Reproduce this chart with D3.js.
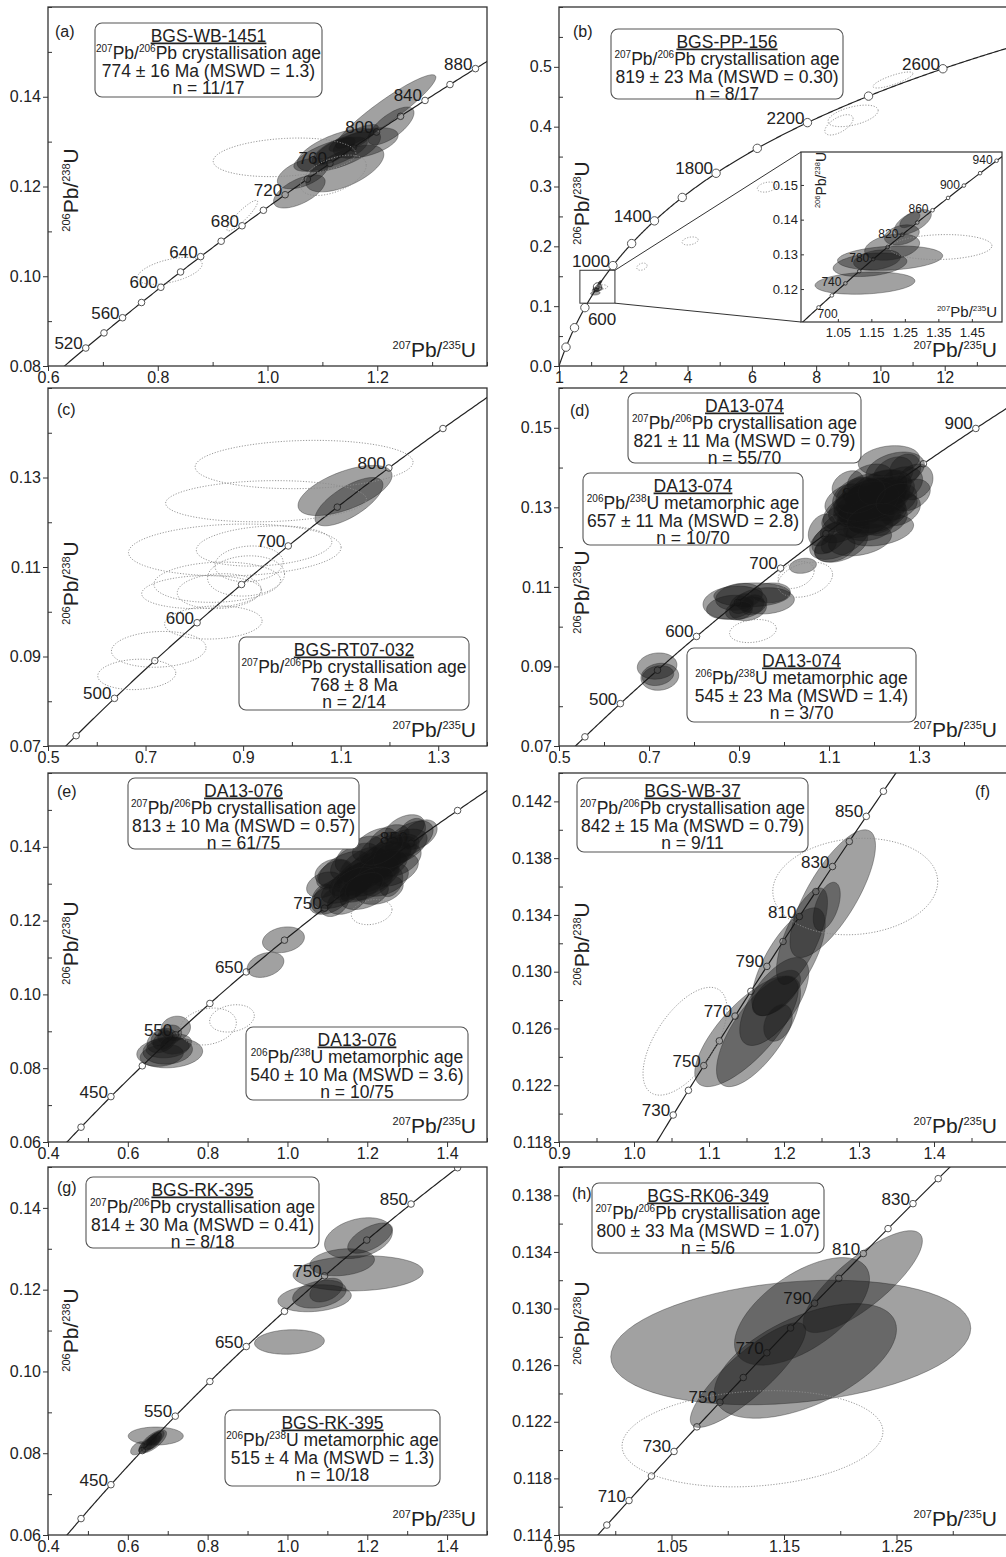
<!DOCTYPE html>
<html>
<head>
<meta charset="utf-8">
<script src="https://cdn.jsdelivr.net/npm/d3@7"></script>
<style>
  body { margin: 0; background: #fff; }
  svg { display: block; font-family: "Liberation Sans", Arial, sans-serif; }
</style>
</head>
<body>
<svg id="chart" width="1006" height="1557"></svg>
<script>

// decay constants (per Myr) used for the concordia curve
const L238 = 1.55125e-4;
const L235 = 9.8485e-4;

// ellipses are [x, y, half-width in x, half-width in y, correlation]

// ---- panel (a) BGS-WB-1451
const A_MARKERS = [520, 540, 560, 580, 600, 620, 640, 660, 680, 700, 720, 740, 760, 780, 800, 820, 840, 860, 880];
const A_LABELS = [520, 560, 600, 640, 680, 720, 760, 800, 840, 880];
const A_X = ["0.6", "0.8", "1.0", "1.2"];
const A_Y = ["0.08", "0.10", "0.12", "0.14"];
const A_BOX = ["BGS-WB-1451", "^207Pb/^206Pb crystallisation age", "774 ± 16 Ma (MSWD = 1.3)", "n = 11/17"];
const A_FILLED = [
  [1.2155, 0.1367, 0.0913, 0.0082, 0.93],
  [1.225, 0.1335, 0.042, 0.0042, 0.7],
  [1.179, 0.1297, 0.059, 0.0034, 0.5],
  [1.130, 0.1281, 0.076, 0.0048, 0.6],
  [1.064, 0.1229, 0.046, 0.0034, 0.5],
  [1.058, 0.1189, 0.047, 0.0037, 0.6],
  [1.141, 0.1240, 0.071, 0.0052, 0.6],
  [1.115, 0.1272, 0.067, 0.0038, 0.7],
  [1.139, 0.1292, 0.050, 0.0030, 0.8],
  [1.157, 0.1308, 0.045, 0.0030, 0.8],
  [1.121, 0.1279, 0.040, 0.0032, 0.7]
];
const A_REJECTED = [
  [1.031, 0.1265, 0.130, 0.0043, 0.2],
  [1.120, 0.1225, 0.060, 0.0045, 0.5],
  [0.954, 0.1135, 0.028, 0.0034, 0.9],
  [0.822, 0.1012, 0.059, 0.0030, 0.5]
];

// ---- panel (b) BGS-PP-156
const B_MARKERS = [200, 400, 600, 800, 1000, 1200, 1400, 1600, 1800, 2000, 2200, 2400, 2600];
const B_LABELS = [600, 1000, 1400, 1800, 2200, 2600];
const B_X_VALUES = [0, 2, 4, 6, 8, 10, 12];
const B_X = ["1", "2", "4", "6", "8", "10", "12"];
const B_Y = ["0.0", "0.1", "0.2", "0.3", "0.4", "0.5"];
const B_BOX = ["BGS-PP-156", "^207Pb/^206Pb crystallisation age", "819 ± 23 Ma (MSWD = 0.30)", "n = 8/17"];
const B_FILLED = [
  [1.131, 0.1217, 0.149, 0.0032, 0.2],
  [1.206, 0.1289, 0.157, 0.0035, 0.2],
  [1.146, 0.1270, 0.110, 0.0034, 0.3],
  [1.167, 0.1284, 0.070, 0.0029, 0.3],
  [1.212, 0.1321, 0.082, 0.0038, 0.3],
  [1.241, 0.1356, 0.052, 0.0029, 0.3],
  [1.274, 0.1393, 0.055, 0.0036, 0.6],
  [1.265, 0.1399, 0.030, 0.0022, 0.6]
];
const B_REJECTED = [
  [10.39, 0.478, 0.62, 0.0134, 0.8],
  [9.15, 0.418, 0.78, 0.018, 0.5],
  [8.71, 0.403, 0.44, 0.017, 0.6],
  [6.47, 0.299, 0.30, 0.0084, 0.3],
  [4.08, 0.209, 0.25, 0.0067, 0.3],
  [2.58, 0.166, 0.16, 0.006, 0.3],
  [1.358, 0.1321, 0.152, 0.0036, 0.1]
];
const B_ZOOM = [0.65, 1.74, 0.105, 0.16];
const INSET_MARKERS = [700, 720, 740, 760, 780, 800, 820, 840, 860, 880, 900, 920, 940];
const INSET_LABELS = [700, 740, 780, 820, 860, 900, 940];
const INSET_X = ["1.05", "1.15", "1.25", "1.35", "1.45"];
const INSET_Y = ["0.12", "0.13", "0.14", "0.15"];

// ---- panel (c) BGS-RT07-032
const C_MARKERS = [450, 500, 550, 600, 650, 700, 750, 800, 850];
const C_LABELS = [500, 600, 700, 800];
const C_X = ["0.5", "0.7", "0.9", "1.1", "1.3"];
const C_Y = ["0.07", "0.09", "0.11", "0.13"];
const C_BOX = ["BGS-RT07-032", "^207Pb/^206Pb crystallisation age", "768 ± 8 Ma", "n = 2/14"];
const C_FILLED = [
  [1.109, 0.1271, 0.0964, 0.0056, 0.6],
  [1.117, 0.1246, 0.0697, 0.0054, 0.7]
];
const C_REJECTED = [
  [1.025, 0.1329, 0.2235, 0.0054, 0.1],
  [0.947, 0.1247, 0.206, 0.0046, 0.1],
  [0.883, 0.1138, 0.218, 0.0058, 0.1],
  [0.943, 0.1147, 0.139, 0.0045, 0.2],
  [0.906, 0.1080, 0.079, 0.0045, 0.1],
  [0.847, 0.1066, 0.130, 0.0045, 0.1],
  [0.815, 0.1044, 0.123, 0.0037, 0.1],
  [0.851, 0.1046, 0.086, 0.0039, 0.1],
  [0.839, 0.0976, 0.100, 0.0037, 0.1],
  [0.727, 0.0916, 0.097, 0.0040, 0.1],
  [0.682, 0.0860, 0.080, 0.0034, 0.1],
  [0.912, 0.1107, 0.070, 0.0040, 0.1]
];

// ---- panel (d) DA13-074
const D_MARKERS = [450, 500, 550, 600, 650, 700, 750, 800, 850, 900];
const D_LABELS = [500, 600, 700, 800, 900];
const D_X = ["0.5", "0.7", "0.9", "1.1", "1.3"];
const D_Y = ["0.07", "0.09", "0.11", "0.13", "0.15"];
const D_BOX_1 = ["DA13-074", "^207Pb/^206Pb crystallisation age", "821 ± 11 Ma (MSWD = 0.79)", "n = 55/70"];
const D_BOX_2 = ["DA13-074", "^206Pb/^238U metamorphic age", "657 ± 11 Ma (MSWD = 2.8)", "n = 10/70"];
const D_BOX_3 = ["DA13-074", "^206Pb/^238U metamorphic age", "545 ± 23 Ma (MSWD = 1.4)", "n = 3/70"];
const D_CRYST = [
  [1.233, 0.1417, 0.068, 0.0038, 0.2], [1.247, 0.1394, 0.065, 0.0045, 0.3],
  [1.291, 0.1364, 0.040, 0.0045, 0.2], [1.280, 0.1331, 0.045, 0.0040, 0.3],
  [1.213, 0.1344, 0.070, 0.0050, 0.4], [1.191, 0.1319, 0.080, 0.0055, 0.4],
  [1.169, 0.1306, 0.070, 0.0050, 0.5], [1.147, 0.1294, 0.060, 0.0050, 0.5],
  [1.202, 0.1281, 0.070, 0.0045, 0.3], [1.236, 0.1306, 0.060, 0.0040, 0.2],
  [1.180, 0.1269, 0.065, 0.0045, 0.4], [1.136, 0.1256, 0.055, 0.0045, 0.5],
  [1.213, 0.1243, 0.075, 0.0040, 0.3], [1.169, 0.1218, 0.070, 0.0040, 0.3],
  [1.102, 0.1223, 0.040, 0.0040, 0.5], [1.084, 0.1243, 0.030, 0.0040, 0.3],
  [1.113, 0.1198, 0.045, 0.0035, 0.3], [1.042, 0.1153, 0.030, 0.0019, 0.2],
  [1.100, 0.1208, 0.017, 0.0023, 0.3], [1.258, 0.1357, 0.050, 0.0045, 0.3],
  [1.191, 0.1369, 0.050, 0.0040, 0.3], [1.158, 0.1331, 0.050, 0.0045, 0.4],
  [1.224, 0.1269, 0.050, 0.0040, 0.3], [1.258, 0.1294, 0.045, 0.0040, 0.3],
  [1.136, 0.1319, 0.045, 0.0040, 0.4], [1.213, 0.1319, 0.050, 0.0040, 0.3],
  [1.180, 0.1344, 0.050, 0.0040, 0.3], [1.242, 0.1382, 0.045, 0.0045, 0.3],
  [1.202, 0.1306, 0.040, 0.0035, 0.3], [1.164, 0.1289, 0.045, 0.0040, 0.4],
  [1.269, 0.1394, 0.035, 0.0040, 0.2], [1.142, 0.1357, 0.035, 0.0035, 0.3],
  [1.124, 0.1274, 0.040, 0.0035, 0.4], [1.187, 0.1251, 0.055, 0.0035, 0.2],
  [1.229, 0.1336, 0.045, 0.0040, 0.3], [1.124, 0.1223, 0.067, 0.0054, 0.5],
  [1.127, 0.1206, 0.059, 0.0044, 0.4], [1.190, 0.1300, 0.060, 0.0040, 0.3],
  [1.215, 0.1310, 0.055, 0.0040, 0.3], [1.175, 0.1290, 0.055, 0.0040, 0.3],
  [1.225, 0.1325, 0.055, 0.0045, 0.3], [1.195, 0.1330, 0.060, 0.0045, 0.3],
  [1.160, 0.1300, 0.050, 0.0040, 0.4], [1.240, 0.1340, 0.050, 0.0040, 0.3],
  [1.205, 0.1290, 0.065, 0.0045, 0.3], [1.185, 0.1315, 0.070, 0.0050, 0.3],
  [1.220, 0.1350, 0.055, 0.0045, 0.3], [1.170, 0.1330, 0.055, 0.0045, 0.3],
  [1.200, 0.1270, 0.060, 0.0040, 0.3], [1.250, 0.1320, 0.045, 0.0040, 0.3]
];
const D_META_1 = [
  [0.891, 0.1060, 0.071, 0.0042, 0.1], [0.929, 0.1080, 0.085, 0.0030, 0.1],
  [0.920, 0.1045, 0.041, 0.0030, 0.2], [0.958, 0.1065, 0.065, 0.0033, 0.1],
  [0.906, 0.1058, 0.026, 0.0025, 0.3], [0.880, 0.1049, 0.052, 0.0030, 0.2],
  [0.930, 0.1055, 0.026, 0.0025, 0.2], [0.900, 0.1075, 0.052, 0.0034, 0.2],
  [0.970, 0.1085, 0.044, 0.0025, 0.1], [0.900, 0.1040, 0.030, 0.0023, 0.2]
];
const D_META_2 = [
  [0.718, 0.0901, 0.044, 0.0033, 0.1],
  [0.724, 0.0874, 0.042, 0.0034, 0.1],
  [0.720, 0.0877, 0.035, 0.0025, 0.2]
];
const D_REJECTED = [
  [0.931, 0.0989, 0.052, 0.0029, 0.2],
  [1.047, 0.1118, 0.061, 0.0044, 0.3],
  [1.027, 0.1130, 0.040, 0.0034, 0.3]
];

// ---- panel (e) DA13-076
const E_MARKERS = [400, 450, 500, 550, 600, 650, 700, 750, 800, 850, 900];
const E_LABELS = [450, 550, 650, 750, 850];
const E_X = ["0.4", "0.6", "0.8", "1.0", "1.2", "1.4"];
const E_Y = ["0.06", "0.08", "0.10", "0.12", "0.14"];
const E_BOX_1 = ["DA13-076", "^207Pb/^206Pb crystallisation age", "813 ± 10 Ma (MSWD = 0.57)", "n = 61/75"];
const E_BOX_2 = ["DA13-076", "^206Pb/^238U metamorphic age", "540 ± 10 Ma (MSWD = 3.6)", "n = 10/75"];
const E_CRYST = [
  [1.305, 0.1420, 0.060, 0.0050, 0.5], [1.280, 0.1398, 0.070, 0.0050, 0.5],
  [1.255, 0.1379, 0.075, 0.0055, 0.6], [1.230, 0.1360, 0.080, 0.0055, 0.6],
  [1.205, 0.1338, 0.080, 0.0055, 0.6], [1.180, 0.1316, 0.075, 0.0050, 0.6],
  [1.155, 0.1297, 0.070, 0.0050, 0.6], [1.130, 0.1278, 0.065, 0.0045, 0.5],
  [1.268, 0.1338, 0.060, 0.0045, 0.4], [1.218, 0.1406, 0.055, 0.0045, 0.5],
  [1.243, 0.1311, 0.060, 0.0045, 0.4], [1.180, 0.1379, 0.060, 0.0050, 0.5],
  [1.143, 0.1338, 0.065, 0.0050, 0.5], [1.330, 0.1433, 0.045, 0.0040, 0.4],
  [1.293, 0.1447, 0.050, 0.0040, 0.4], [1.193, 0.1270, 0.060, 0.0040, 0.4],
  [1.105, 0.1257, 0.050, 0.0040, 0.4], [1.093, 0.1297, 0.045, 0.0035, 0.3],
  [1.230, 0.1284, 0.060, 0.0040, 0.3], [1.280, 0.1365, 0.055, 0.0045, 0.4],
  [1.168, 0.1360, 0.060, 0.0050, 0.5], [1.255, 0.1420, 0.050, 0.0040, 0.4],
  [1.210, 0.1316, 0.070, 0.0050, 0.5], [1.150, 0.1257, 0.050, 0.0040, 0.4],
  [1.118, 0.1325, 0.045, 0.0040, 0.4], [1.115, 0.1330, 0.046, 0.0037, 0.2],
  [1.118, 0.1251, 0.037, 0.0040, 0.3], [1.260, 0.1305, 0.029, 0.0040, 0.3],
  [1.310, 0.1435, 0.036, 0.0042, 0.4], [1.090, 0.1260, 0.030, 0.0040, 0.3],
  [1.200, 0.1335, 0.060, 0.0045, 0.6], [1.225, 0.1350, 0.060, 0.0045, 0.6],
  [1.175, 0.1320, 0.060, 0.0045, 0.6], [1.250, 0.1370, 0.060, 0.0045, 0.6],
  [1.215, 0.1325, 0.065, 0.0050, 0.5], [1.190, 0.1350, 0.060, 0.0050, 0.5],
  [1.240, 0.1345, 0.060, 0.0045, 0.5], [1.165, 0.1300, 0.055, 0.0045, 0.5],
  [1.270, 0.1385, 0.055, 0.0045, 0.5], [1.205, 0.1300, 0.060, 0.0045, 0.5],
  [1.235, 0.1395, 0.055, 0.0045, 0.5], [1.185, 0.1290, 0.055, 0.0040, 0.5],
  [0.990, 0.1148, 0.0525, 0.0035, 0.2], [0.945, 0.1080, 0.046, 0.0034, 0.3]
];
const E_META = [
  [0.705, 0.0842, 0.0825, 0.0041, 0.1], [0.700, 0.0848, 0.062, 0.0037, 0.1],
  [0.720, 0.0908, 0.037, 0.0033, 0.1], [0.685, 0.0875, 0.037, 0.0033, 0.3],
  [0.690, 0.0875, 0.027, 0.0025, 0.3], [0.700, 0.0855, 0.054, 0.0027, 0.2],
  [0.705, 0.0890, 0.030, 0.0027, 0.2], [0.685, 0.0835, 0.054, 0.0030, 0.2],
  [0.683, 0.0882, 0.025, 0.0023, 0.3], [0.720, 0.0865, 0.040, 0.0027, 0.2]
];
const E_REJECTED = [
  [1.211, 0.1223, 0.051, 0.0034, 0.2],
  [0.801, 0.0913, 0.071, 0.0050, 0.2],
  [0.861, 0.0935, 0.056, 0.0037, 0.2]
];

// ---- panel (f) BGS-WB-37
const F_MARKERS = [730, 740, 750, 760, 770, 780, 790, 800, 810, 820, 830, 840, 850, 860];
const F_LABELS = [730, 750, 770, 790, 810, 830, 850];
const F_X = ["0.9", "1.0", "1.1", "1.2", "1.3", "1.4"];
const F_Y = ["0.118", "0.122", "0.126", "0.130", "0.134", "0.138", "0.142"];
const F_BOX = ["BGS-WB-37", "^207Pb/^206Pb crystallisation age", "842 ± 15 Ma (MSWD = 0.79)", "n = 9/11"];
const F_FILLED = [
  [1.265, 0.1355, 0.057, 0.0045, 0.75],
  [1.257, 0.1346, 0.018, 0.0017, 0.5],
  [1.224, 0.1325, 0.034, 0.0034, 0.7],
  [1.206, 0.1307, 0.049, 0.0038, 0.7],
  [1.187, 0.1279, 0.046, 0.0031, 0.65],
  [1.190, 0.1285, 0.032, 0.0016, 0.6],
  [1.150, 0.1258, 0.069, 0.0039, 0.75],
  [1.166, 0.1258, 0.056, 0.0039, 0.7],
  [1.192, 0.1264, 0.019, 0.0013, 0.3]
];
const F_REJECTED = [
  [1.295, 0.1360, 0.110, 0.0034, 0.1],
  [1.068, 0.1251, 0.056, 0.0038, 0.6]
];

// ---- panel (g) BGS-RK-395
const G_MARKERS = [400, 450, 500, 550, 600, 650, 700, 750, 800, 850, 900];
const G_LABELS = [450, 550, 650, 750, 850];
const G_X = ["0.4", "0.6", "0.8", "1.0", "1.2", "1.4"];
const G_Y = ["0.06", "0.08", "0.10", "0.12", "0.14"];
const G_BOX_1 = ["BGS-RK-395", "^207Pb/^206Pb crystallisation age", "814 ± 30 Ma (MSWD = 0.41)", "n = 8/18"];
const G_BOX_2 = ["BGS-RK-395", "^206Pb/^238U metamorphic age", "515 ± 4 Ma (MSWD = 1.3)", "n = 10/18"];
const G_CRYST = [
  [1.178, 0.1326, 0.085, 0.0050, 0.3],
  [1.207, 0.1326, 0.056, 0.0037, 0.6],
  [1.137, 0.1267, 0.081, 0.0033, 0.2],
  [1.177, 0.1240, 0.163, 0.0043, 0.1],
  [1.068, 0.1179, 0.092, 0.0033, 0.2],
  [1.080, 0.1189, 0.067, 0.0034, 0.3],
  [1.097, 0.1199, 0.041, 0.0029, 0.4],
  [1.005, 0.1072, 0.0875, 0.0030, 0.1]
];
const G_META = [
  [0.670, 0.0842, 0.069, 0.0022, 0.0], [0.663, 0.0829, 0.034, 0.0028, 0.7],
  [0.665, 0.0830, 0.020, 0.0020, 0.6], [0.625, 0.0812, 0.018, 0.0016, 0.5],
  [0.660, 0.0826, 0.021, 0.0018, 0.6], [0.668, 0.0836, 0.016, 0.0016, 0.6],
  [0.653, 0.0822, 0.020, 0.0019, 0.6], [0.673, 0.0838, 0.018, 0.0017, 0.6],
  [0.645, 0.0817, 0.018, 0.0017, 0.6], [0.660, 0.0832, 0.014, 0.0015, 0.6]
];

// ---- panel (h) BGS-RK06-349
const H_MARKERS = [700, 710, 720, 730, 740, 750, 760, 770, 780, 790, 800, 810, 820, 830, 840];
const H_LABELS = [710, 730, 750, 770, 790, 810, 830];
const H_X = ["0.95", "1.05", "1.15", "1.25"];
const H_Y = ["0.114", "0.118", "0.122", "0.126", "0.130", "0.134", "0.138"];
const H_BOX = ["BGS-RK06-349", "^207Pb/^206Pb crystallisation age", "800 ± 33 Ma (MSWD = 1.07)", "n = 5/6"];
const H_FILLED = [
  [1.156, 0.1276, 0.160, 0.0044, 0.23],
  [1.118, 0.1253, 0.0513, 0.0037, 0.85],
  [1.169, 0.1263, 0.081, 0.00405, 0.55],
  [1.166, 0.1298, 0.060, 0.0038, 0.6],
  [1.220, 0.1319, 0.053, 0.0036, 0.8]
];
const H_REJECTED = [
  [1.122, 0.1208, 0.116, 0.0034, 0.15]
];

// ------------------------------------------------------------------
const svg = d3.select('#chart');
svg.append('rect').attr('width', 1006).attr('height', 1557).attr('fill', '#fff');

const INK = '#222';

function concordiaXY(t) {
  return [Math.expm1(L235 * t), Math.expm1(L238 * t)];
}

// "^207Pb/^206Pb" -> superscript tspans
function addRichText(text, str, big, small) {
  const shift = Math.round(big * 0.4);
  const parts = str.split(/(\^\d+)/).filter(s => s.length > 0);
  let up = false;
  parts.forEach(part => {
    const t = text.append('tspan');
    if (part[0] === '^') {
      t.attr('font-size', small).attr('dy', up ? 0 : -shift).text(part.slice(1));
      up = true;
    } else {
      t.attr('font-size', big).attr('dy', up ? shift : 0).text(part);
      up = false;
    }
  });
}

function ellipsePath(e, x, y) {
  const [cx, cy, dx, dy, rho] = e;
  const s = Math.sqrt(1 - rho * rho);
  const pts = d3.range(0, 73).map(i => {
    const a = i / 72 * 2 * Math.PI;
    return [x(cx + dx * Math.cos(a)), y(cy + dy * (rho * Math.cos(a) + s * Math.sin(a)))];
  });
  return d3.line()(pts) + 'Z';
}

function drawEllipses(g, x, y, data, dotted) {
  g.append('g').selectAll('path')
    .data(data)
    .enter()
    .append('path')
      .attr('d', d => ellipsePath(d, x, y))
      .attr('fill', dotted ? 'none' : '#141414')
      .attr('fill-opacity', dotted ? null : 0.4)
      .attr('stroke', dotted ? '#8c8c8c' : '#262626')
      .attr('stroke-opacity', dotted ? 1 : 0.55)
      .attr('stroke-width', dotted ? 0.9 : 0.7)
      .attr('stroke-dasharray', dotted ? '1.2,1.6' : null);
}

function drawConcordia(g, x, y, opt) {
  const curve = d3.range(0, 3000, 2).map(concordiaXY);
  g.append('path')
    .attr('d', d3.line().x(d => x(d[0])).y(d => y(d[1]))(curve))
    .attr('fill', 'none').attr('stroke', INK).attr('stroke-width', 1.2);

  g.append('g').selectAll('circle')
    .data(opt.markers)
    .enter()
    .append('circle')
      .attr('cx', t => x(concordiaXY(t)[0]))
      .attr('cy', t => y(concordiaXY(t)[1]))
      .attr('r', opt.r)
      .attr('fill', '#fff').attr('stroke', '#555').attr('stroke-width', 1);

  const off = opt.offsets || {};
  g.append('g').selectAll('text')
    .data(opt.labels)
    .enter()
    .append('text')
      .text(t => t)
      .attr('x', t => x(concordiaXY(t)[0]) + (off[t] ? off[t][0] : opt.dx))
      .attr('y', t => y(concordiaXY(t)[1]) + (off[t] ? off[t][1] : opt.dy))
      .attr('text-anchor', t => off[t] ? 'start' : 'end')
      .attr('font-size', opt.fs)
      .attr('fill', INK);
}

function minorTicks(domain, step, majors) {
  const n = Math.round((domain[1] - domain[0]) / step);
  const vals = [];
  for (let i = 0; i <= n; i++) {
    const v = +(domain[0] + i * step).toFixed(6);
    if (!majors.some(m => Math.abs(m - v) < step / 10)) vals.push(v);
  }
  return vals;
}

function drawAxes(g, x, y, p, fs, majorLen, minorLen) {
  const [fx0, fy0, fx1, fy1] = p.frame;
  const xVals = p.xValues || p.xLabels.map(Number);
  const yVals = p.yLabels.map(Number);

  const xa = g.append('g').attr('class', 'x-axis').attr('transform', `translate(0,${fy1})`)
    .call(d3.axisBottom(x).tickValues(xVals).tickFormat((d, i) => p.xLabels[i])
      .tickSizeInner(majorLen).tickSizeOuter(0).tickPadding(1));
  const ya = g.append('g').attr('class', 'y-axis').attr('transform', `translate(${fx0},0)`)
    .call(d3.axisLeft(y).tickValues(yVals).tickFormat((d, i) => p.yLabels[i])
      .tickSizeInner(majorLen).tickSizeOuter(0).tickPadding(2));

  if (p.xMinor) {
    g.append('g').attr('transform', `translate(0,${fy1})`)
      .call(d3.axisBottom(x).tickValues(minorTicks(p.xDomain, p.xMinor, xVals))
        .tickSize(-minorLen).tickFormat(''));
  }
  if (p.yMinor) {
    g.append('g').attr('transform', `translate(${fx0},0)`)
      .call(d3.axisLeft(y).tickValues(minorTicks(p.yDomain, p.yMinor, yVals))
        .tickSize(-minorLen).tickFormat(''));
  }
  g.selectAll('.domain').remove();
  g.selectAll('.tick line').attr('stroke', '#333');
  [xa, ya].forEach(a => {
    a.attr('font-family', null).attr('font-size', null);
    a.selectAll('text').attr('font-size', fs).attr('fill', INK);
  });
  return [xa, ya];
}

function drawBox(g, box, lines) {
  const [bx0, by0, bx1, by1] = box;
  g.append('rect')
    .attr('x', bx0).attr('y', by0)
    .attr('width', bx1 - bx0).attr('height', by1 - by0)
    .attr('rx', 7)
    .attr('fill', '#fff').attr('stroke', '#555').attr('stroke-width', 1.1);
  lines.forEach((line, i) => {
    const t = g.append('text')
      .attr('x', (bx0 + bx1) / 2)
      .attr('y', by0 + 18.5 + 17.5 * i)
      .attr('text-anchor', 'middle')
      .attr('fill', INK);
    if (i === 0) t.attr('text-decoration', 'underline');
    addRichText(t, line, 17.5, 10);
  });
}

function drawPanel(p) {
  const [fx0, fy0, fx1, fy1] = p.frame;
  const x = d3.scaleLinear().domain(p.xDomain).range([fx0, fx1]);
  const y = d3.scaleLinear().domain(p.yDomain).range([fy1, fy0]);
  const g = svg.append('g');

  const clipId = 'clip-' + p.id;
  g.append('clipPath').attr('id', clipId).append('rect')
    .attr('x', fx0).attr('y', fy0).attr('width', fx1 - fx0).attr('height', fy1 - fy0);
  const plot = g.append('g').attr('clip-path', `url(#${clipId})`);

  drawConcordia(plot, x, y, {
    markers: p.markers, labels: p.labels, r: p.r || 3.3,
    fs: 17, dx: -3, dy: 1, offsets: p.offsets
  });
  p.filled.forEach(set => drawEllipses(plot, x, y, set, false));
  p.rejected.forEach(set => drawEllipses(plot, x, y, set, true));

  drawAxes(g, x, y, p, 16, 5, 4);

  if (p.extra) p.extra(g, x, y);

  p.boxes.forEach(b => drawBox(g, b[0], b[1]));

  // frame
  g.append('rect')
    .attr('x', fx0).attr('y', fy0).attr('width', fx1 - fx0).attr('height', fy1 - fy0)
    .attr('fill', 'none').attr('stroke', '#333').attr('stroke-width', 1.3);

  // panel letter
  g.append('text').attr('x', p.letterAt[0]).attr('y', p.letterAt[1])
    .attr('font-size', 16).attr('fill', INK).text('(' + p.id + ')');

  // axis titles
  const xt = g.append('text')
    .attr('x', fx0 < 300 ? 476 : 997).attr('y', fy1 - 9)
    .attr('text-anchor', 'end').attr('fill', INK);
  addRichText(xt, '^207Pb/^235U', 21, 11);

  const yt = g.append('text')
    .attr('transform', `translate(${fx0 + 30},${p.yTitleAt}) rotate(-90)`)
    .attr('text-anchor', 'middle').attr('fill', INK);
  addRichText(yt, '^206Pb/^238U', 21, 11);
}

// the zoom inset of panel (b)
function drawInset(g, x, y) {
  const frame = [801, 152, 1002, 322];
  const [ix0, iy0, ix1, iy1] = frame;

  // zoom rectangle and connector lines in the main plot
  g.append('rect')
    .attr('x', x(B_ZOOM[0])).attr('y', y(B_ZOOM[3]))
    .attr('width', x(B_ZOOM[1]) - x(B_ZOOM[0])).attr('height', y(B_ZOOM[2]) - y(B_ZOOM[3]))
    .attr('fill', 'none').attr('stroke', '#333').attr('stroke-width', 1);
  g.append('line')
    .attr('x1', x(B_ZOOM[1])).attr('y1', y(B_ZOOM[3])).attr('x2', ix0).attr('y2', iy0)
    .attr('stroke', '#333').attr('stroke-width', 1);
  g.append('line')
    .attr('x1', x(B_ZOOM[1])).attr('y1', y(B_ZOOM[2])).attr('x2', ix0).attr('y2', iy1)
    .attr('stroke', '#333').attr('stroke-width', 1);

  const sx = d3.scaleLinear().domain([0.94, 1.54]).range([ix0, ix1]);
  const sy = d3.scaleLinear().domain([0.1105, 0.1595]).range([iy1, iy0]);

  g.append('rect').attr('x', ix0).attr('y', iy0)
    .attr('width', ix1 - ix0).attr('height', iy1 - iy0).attr('fill', '#fff');

  g.append('clipPath').attr('id', 'clip-inset').append('rect')
    .attr('x', ix0).attr('y', iy0).attr('width', ix1 - ix0).attr('height', iy1 - iy0);
  const plot = g.append('g').attr('clip-path', 'url(#clip-inset)');

  drawConcordia(plot, sx, sy, {
    markers: INSET_MARKERS, labels: INSET_LABELS, r: 1.8,
    fs: 12, dx: -4, dy: 3, offsets: { 700: [-1, 11] }
  });
  drawEllipses(plot, sx, sy, B_FILLED, false);
  drawEllipses(plot, sx, sy, [B_REJECTED[B_REJECTED.length - 1]], true);

  const p = {
    frame: frame, xDomain: sx.domain(), yDomain: sy.domain(),
    xLabels: INSET_X, yLabels: INSET_Y
  };
  const [xa, ya] = drawAxes(g.append('g'), sx, sy, p, 13, -3, 0);
  xa.selectAll('.tick text').attr('dy', null).attr('y', 15);
  ya.selectAll('.tick text').attr('x', -3);

  g.append('rect').attr('x', ix0).attr('y', iy0)
    .attr('width', ix1 - ix0).attr('height', iy1 - iy0)
    .attr('fill', 'none').attr('stroke', '#333').attr('stroke-width', 1.2);

  const xt = g.append('text').attr('x', ix1 - 5).attr('y', iy1 - 5)
    .attr('text-anchor', 'end').attr('fill', INK);
  addRichText(xt, '^207Pb/^235U', 15, 8);
  const yt = g.append('text')
    .attr('transform', `translate(${ix0 + 25},${iy0 + 28}) rotate(-90)`)
    .attr('text-anchor', 'middle').attr('fill', INK);
  addRichText(yt, '^206Pb/^238U', 14, 7.5);
}

const PANELS = [
  { id: 'a', frame: [48, 7, 487, 366], xDomain: [0.6, 1.4], yDomain: [0.08, 0.16],
    xLabels: A_X, yLabels: A_Y, xMinor: 0.1, yMinor: 0.01,
    markers: A_MARKERS, labels: A_LABELS,
    filled: [A_FILLED], rejected: [A_REJECTED],
    boxes: [[[95, 23, 322, 97], A_BOX]],
    letterAt: [55, 37], yTitleAt: 190 },
  { id: 'b', frame: [559, 7, 1009, 366], xDomain: [0, 14], yDomain: [0, 0.6],
    xValues: B_X_VALUES, xLabels: B_X, yLabels: B_Y, xMinor: 1, yMinor: 0.05,
    markers: B_MARKERS, labels: B_LABELS, r: 4.2, offsets: { 600: [3, 17] },
    filled: [B_FILLED], rejected: [B_REJECTED],
    boxes: [[[611, 29, 843, 99], B_BOX]],
    letterAt: [573, 37], yTitleAt: 203, extra: drawInset },
  { id: 'c', frame: [48, 388, 487, 746], xDomain: [0.5, 1.4], yDomain: [0.07, 0.15],
    xLabels: C_X, yLabels: C_Y, xMinor: 0.1, yMinor: 0.01,
    markers: C_MARKERS, labels: C_LABELS,
    filled: [C_FILLED], rejected: [C_REJECTED],
    boxes: [[[239, 637, 469, 710], C_BOX]],
    letterAt: [57, 415], yTitleAt: 583 },
  { id: 'd', frame: [559, 388, 1009, 746], xDomain: [0.5, 1.5], yDomain: [0.07, 0.16],
    xLabels: D_X, yLabels: D_Y, xMinor: 0.1, yMinor: 0.01,
    markers: D_MARKERS, labels: D_LABELS,
    filled: [D_CRYST, D_META_1, D_META_2], rejected: [D_REJECTED],
    boxes: [[[628, 393, 861, 463], D_BOX_1], [[583, 473, 803, 545], D_BOX_2], [[687, 648, 916, 722], D_BOX_3]],
    letterAt: [570, 416], yTitleAt: 592 },
  { id: 'e', frame: [48, 773, 487, 1142], xDomain: [0.4, 1.5], yDomain: [0.06, 0.16],
    xLabels: E_X, yLabels: E_Y, xMinor: 0.1, yMinor: 0.01,
    markers: E_MARKERS, labels: E_LABELS,
    filled: [E_CRYST, E_META], rejected: [E_REJECTED],
    boxes: [[[128, 778, 359, 849], E_BOX_1], [[246, 1027, 468, 1100], E_BOX_2]],
    letterAt: [57, 797], yTitleAt: 943 },
  { id: 'f', frame: [559, 773, 1009, 1142], xDomain: [0.9, 1.5], yDomain: [0.118, 0.144],
    xLabels: F_X, yLabels: F_Y, xMinor: 0.05, yMinor: 0.002,
    markers: F_MARKERS, labels: F_LABELS,
    filled: [F_FILLED], rejected: [F_REJECTED],
    boxes: [[[577, 778, 808, 852], F_BOX]],
    letterAt: [975, 797], yTitleAt: 944 },
  { id: 'g', frame: [48, 1167, 487, 1535], xDomain: [0.4, 1.5], yDomain: [0.06, 0.15],
    xLabels: G_X, yLabels: G_Y, xMinor: 0.1, yMinor: 0.01,
    markers: G_MARKERS, labels: G_LABELS,
    filled: [G_CRYST, G_META], rejected: [],
    boxes: [[[86, 1177, 319, 1248], G_BOX_1], [[225, 1410, 440, 1486], G_BOX_2]],
    letterAt: [57, 1193], yTitleAt: 1330 },
  { id: 'h', frame: [559, 1167, 1009, 1535], xDomain: [0.95, 1.35], yDomain: [0.114, 0.140],
    xLabels: H_X, yLabels: H_Y, xMinor: 0.05, yMinor: 0.002,
    markers: H_MARKERS, labels: H_LABELS,
    filled: [H_FILLED], rejected: [H_REJECTED],
    boxes: [[[592, 1183, 824, 1253], H_BOX]],
    letterAt: [572, 1199], yTitleAt: 1323 }
];

PANELS.forEach(drawPanel);

</script>
</body>
</html>
